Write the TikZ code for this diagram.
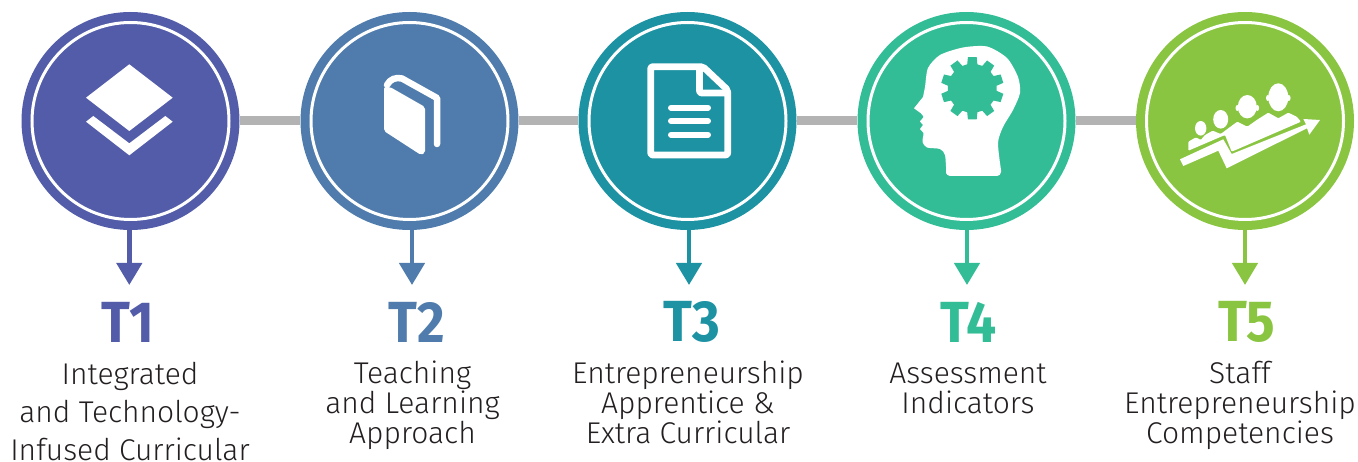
\documentclass[tikz,border=0pt]{standalone}
\usepackage{fontspec}
\setmainfont{Fira Sans}[UprightFont=* Light,BoldFont=* Bold,BoldFeatures={FakeStretch=0.92}]
\usetikzlibrary{arrows.meta}
\definecolor{tone}{HTML}{525CA8}
\definecolor{ttwo}{HTML}{4F7CAC}
\definecolor{tthree}{HTML}{1C92A2}
\definecolor{tfour}{HTML}{33BD96}
\definecolor{tfive}{HTML}{89C541}
\definecolor{txtcol}{HTML}{231F20}
\definecolor{linkcol}{HTML}{B3B3B3}
\tikzset{
    tcirc/.style = {circle, inner sep = 0pt, minimum size = 218pt, fill = #1},
    ring/.style = {circle, inner sep = 0pt, minimum size = 197pt, draw = white, line width = 3pt},
    link/.style = {draw = linkcol, line width = 9pt},
    drop/.style = {draw = #1, line width = 4.5pt, -{Triangle[width = 25pt, length = 22pt]}},
    hd/.style = {font = \fontsize{58}{58}\selectfont\bfseries, text = #1, inner sep = 0pt},
    txt/.style = {font = \fontsize{30}{30}\selectfont, text = txtcol, align = center, inner sep = 0pt, anchor = base},
    icon/.style = {fill = white, draw = none},
    iconline/.style = {draw = white, line width = #1, line join = round}
}
\begin{document}
\begin{tikzpicture}[x = 1pt, y = -1pt]
    \useasboundingbox (0,0) rectangle (1358,462);
    \node[tcirc = tone] (c1) at (130.5,121) {};
    \node[tcirc = ttwo] (c2) at (409.5,121) {};
    \node[tcirc = tthree] (c3) at (687.5,121) {};
    \node[tcirc = tfour] (c4) at (966.5,121) {};
    \node[tcirc = tfive] (c5) at (1245,121) {};
    \node[ring] (r1) at (c1) {};
    \node[ring] (r2) at (c2) {};
    \node[ring] (r3) at (c3) {};
    \node[ring] (r4) at (c4) {};
    \node[ring] (r5) at (c5) {};
    \draw[link] (c1) -- (c2);
    \draw[link] (c2) -- (c3);
    \draw[link] (c3) -- (c4);
    \draw[link] (c4) -- (c5);
    \coordinate (a1) at (129.3,285);
    \coordinate (a2) at (412,285);
    \coordinate (a3) at (689,285);
    \coordinate (a4) at (967,285);
    \coordinate (a5) at (1245,285);
    \draw[drop = tone] (c1.south -| a1) -- (a1);
    \draw[drop = ttwo] (c2.south -| a2) -- (a2);
    \draw[drop = tthree] (c3.south -| a3) -- (a3);
    \draw[drop = tfour] (c4.south -| a4) -- (a4);
    \draw[drop = tfive] (c5.south -| a5) -- (a5);
    % layers
    \fill[icon] (129.3,64.3) -- (172.7,97.7) -- (129.3,131) -- (86,97.7) -- cycle;
    \fill[icon] (86,121.7) -- (93.3,116) -- (129.3,143.3) -- (165.3,116) -- (172.7,121.7) -- (129.3,155.3) -- cycle;
    % book
    \fill[icon, rounded corners = 2pt] (384,87) -- (384,131) -- (421,155) -- (425,153) -- (425,107) -- (390,87) -- cycle;
    \draw[iconline = 6.5pt, line cap = round] (387,85) .. controls (390,79) and (396,77) .. (402,78.5) -- (437,98) -- (437,144);
    % page
    \draw[iconline = 6.7pt, rounded corners = 2pt] (703,66.7) -- (650.7,66.7) -- (650.7,155) -- (727.7,155) -- (727.7,90) -- cycle;
    \draw[iconline = 6.7pt, rounded corners = 2pt] (699.5,66.7) -- (699.5,93) -- (727.7,93);
    \draw[iconline = 6pt, line cap = round] (671,107.7) -- (708,107.7);
    \draw[iconline = 6pt, line cap = round] (671,121) -- (708,121);
    \draw[iconline = 6pt, line cap = round] (671,134.7) -- (708,134.7);
    % head and gear
    \fill[icon] plot[smooth, tension = .45] coordinates {(946,170) (945,155) (940,149) (927,147.5) (922.5,142) (923.5,133) (920,129) (923,125) (920,121.5) (923.5,117) (920.5,113)} -- (914,108.3)
        -- plot[smooth, tension = .45] coordinates {(923,97) (925,87) (928,68) (940,55) (963,47.5) (987,46.5) (1007,58) (1018,77) (1020,93) (1013,110) (1003,127) (998,143) (1001,170)}
        [rounded corners = 4pt] -- (1001,176) -- (946,176) -- cycle;
    \begin{scope}[shift = {(972.3,88.3)}]
        \fill[tfour] (-102:24.5) \foreach \ang in {0,36,...,324} {
            -- ({\ang-90-12}:24.5) -- ({\ang-90-8}:31.5) -- ({\ang-90+8}:31.5) -- ({\ang-90+12}:24.5)
        } -- cycle;
    \end{scope}
    % staff
    \fill[icon] (1180,159.3) -- (1223.3,139.3) -- (1231.7,154) -- (1306,124.3) -- (1303.3,119) -- (1320,120) -- (1309.3,134.7) -- (1307,128.3) -- (1226.7,168.3) -- (1218.3,150.7) -- (1183.3,166) -- cycle;
    \fill[icon, rounded corners = 1pt] (1188.3,150.7) -- (1188.3,141.7) -- (1196,137.3) -- (1200.7,140) -- (1205,135) -- (1212.7,130.7) -- (1220.7,134) -- (1228.3,128.3) -- (1237.3,121.7) -- (1247.3,126.7) -- (1256.7,120) -- (1268.3,112.7) -- (1278.3,118.3) -- (1288.3,112.7) -- (1296.7,116.7) -- (1301,121.7) -- (1231.7,151.7) -- (1225,135) -- cycle;
    \fill[icon] (1278.3,97.3) ellipse (10pt and 14pt);
    \fill[icon] (1267.8,98) ellipse (1.8pt and 3pt);
    \fill[icon] (1288.8,98) ellipse (1.8pt and 3pt);
    \fill[icon] (1247.3,106.7) ellipse (9.5pt and 11.7pt);
    \fill[icon] (1237.3,108) ellipse (1.8pt and 3pt);
    \fill[icon] (1257.3,108) ellipse (1.8pt and 3pt);
    \fill[icon] (1220.7,119.3) ellipse (7.5pt and 9.3pt);
    \fill[icon] (1200.7,128.3) ellipse (5.7pt and 7.3pt);
    % labels
    \node[hd = tone] (t1) at (128,322) {T1};
    \node[hd = ttwo] (t2) at (417,322) {T2};
    \node[hd = tthree] (t3) at (691.5,322) {T3};
    \node[hd = tfour] (t4) at (968.5,322) {T4};
    \node[hd = tfive] (t5) at (1247,322) {T5};
    \node[txt, font = \fontsize{30}{38}\selectfont] (l1) at (130,460) {Integrated\\and Technology-\\Infused Curricular};
    \node[txt] (l2) at (412.5,443.5) {Teaching\\and Learning\\Approach};
    \node[txt] (l3) at (688,443.5) {Entrepreneurship\\Apprentice \&\\Extra Curricular};
    \node[txt] (l4) at (968,413.5) {Assessment\\Indicators};
    \node[txt] (l5) at (1240,443.5) {Staff\\Entrepreneurship\\Competencies};
\end{tikzpicture}
\end{document}
